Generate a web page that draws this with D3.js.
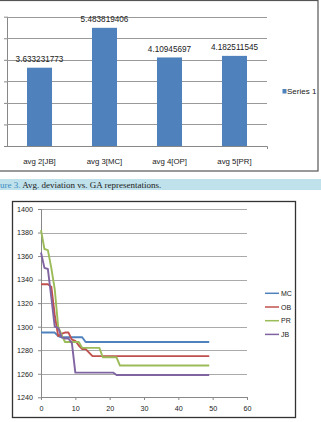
<!DOCTYPE html>
<html><head><meta charset="utf-8">
<script src="https://cdn.jsdelivr.net/npm/d3@7"></script>
<style>body{margin:0;background:#fff;} svg{display:block;}</style>
</head><body><svg id="c" width="321" height="422"></svg>
<script>
// ---- Top chart data ----
const barCategories = ["avg 2[JB]", "avg 3[MC]", "avg 4[OP]", "avg 5[PR]"];
const barValues = [3.633231773, 5.483819406, 4.10945697, 4.182511545];
const barLabels = ["3.633231773", "5.483819406", "4.10945697", "4.182511545"];
const barYTicks = [0, 1, 2, 3, 4, 5, 6];
const barSeriesName = "Series 1";

// ---- Caption ----
const captionLead = "ure 3. ";
const captionText = "Avg. deviation vs. GA representations.";

// ---- Bottom chart data (generation 0..49) ----
const seriesMC = [
  1295,1295,1295,1295,1295,1292,1291,1291,1291,1291,
  1291,1291,1291,1287,1287,1287,1287,1287,1287,1287,
  1287,1287,1287,1287,1287,1287,1287,1287,1287,1287,
  1287,1287,1287,1287,1287,1287,1287,1287,1287,1287,
  1287,1287,1287,1287,1287,1287,1287,1287,1287,1287];
const seriesOB = [
  1336,1336,1336,1334,1310,1292,1294,1295,1295,1289,
  1288,1284,1281,1281,1278,1275,1275,1275,1275,1275,
  1275,1275,1275,1275,1275,1275,1275,1275,1275,1275,
  1275,1275,1275,1275,1275,1275,1275,1275,1275,1275,
  1275,1275,1275,1275,1275,1275,1275,1275,1275,1275];
const seriesPR = [
  1382,1366,1365,1350,1332,1300,1293,1287,1287,1287,
  1287,1287,1282,1282,1282,1282,1282,1282,1274,1274,
  1274,1274,1274,1267,1267,1267,1267,1267,1267,1267,
  1267,1267,1267,1267,1267,1267,1267,1267,1267,1267,
  1267,1267,1267,1267,1267,1267,1267,1267,1267,1267];
const seriesJB = [
  1363,1350,1349,1325,1300,1299,1291,1290,1290,1286,
  1261,1261,1261,1261,1261,1261,1261,1261,1261,1261,
  1261,1261,1259,1259,1259,1259,1259,1259,1259,1259,
  1259,1259,1259,1259,1259,1259,1259,1259,1259,1259,
  1259,1259,1259,1259,1259,1259,1259,1259,1259,1259];
const lineSeriesNames = ["MC", "OB", "PR", "JB"];
const lineYTicks = [1240, 1260, 1280, 1300, 1320, 1340, 1360, 1380, 1400];
const lineXTicks = [0, 10, 20, 30, 40, 50, 60];

const lineSeries = [seriesMC, seriesOB, seriesPR, seriesJB];
const lineColors = ["#4F81BD", "#C0504D", "#9BBB59", "#8064A2"];

const sans = "'Liberation Sans', Arial, sans-serif";
const serif = "'Liberation Serif', 'Times New Roman', serif";
const svg = d3.select("#c");

// ================= TOP BAR CHART =================
svg.append("rect").attr("x", -1).attr("y", 0.5).attr("width", 319).attr("height", 170.5)
  .attr("fill", "#fff").attr("stroke", "#555").attr("stroke-width", 1.2);

const bx = d3.scaleBand().domain(barCategories).range([7, 267])
  .paddingInner(0.615).paddingOuter(0.3077);
const by = d3.scaleLinear().domain([0, 6]).range([146, 16.7]);

const gy = svg.append("g").attr("transform", "translate(7,0)")
  .call(d3.axisLeft(by).tickValues(barYTicks).tickSize(3).tickFormat(""));
gy.select(".domain").attr("stroke", "#888").attr("d", "M0.5," + by(6) + "V" + by(0));
gy.selectAll(".tick line").attr("stroke", "#888");

svg.append("g").selectAll("line").data(barYTicks.filter(d => d > 0)).join("line")
  .attr("x1", 7).attr("x2", 267)
  .attr("y1", d => Math.round(by(d)) + 0.5).attr("y2", d => Math.round(by(d)) + 0.5)
  .attr("stroke", "#999").attr("stroke-width", 1);

const gx = svg.append("g").attr("transform", "translate(0," + by(0) + ")")
  .call(d3.axisBottom(bx).tickSize(0).tickPadding(12));
gx.select(".domain").attr("stroke", "#888").attr("d", "M7,0.5H267.5V3");
gx.selectAll(".tick text").attr("font-family", sans).attr("font-size", "7.8px").attr("fill", "#222");

svg.append("g").selectAll("rect").data(barValues).join("rect")
  .attr("x", (d, i) => bx(barCategories[i]))
  .attr("width", bx.bandwidth())
  .attr("y", d => by(d))
  .attr("height", d => by(0) - by(d))
  .attr("fill", "#4F81BD");

svg.append("g").selectAll("text").data(barValues).join("text")
  .attr("x", (d, i) => bx(barCategories[i]) + bx.bandwidth() / 2)
  .attr("y", d => by(d) - 5.7)
  .attr("text-anchor", "middle")
  .attr("font-family", sans).attr("font-size", "8.2px").attr("fill", "#222")
  .text((d, i) => barLabels[i]);

svg.append("rect").attr("x", 282.5).attr("y", 89).attr("width", 4).attr("height", 4.5).attr("fill", "#4F81BD");
svg.append("text").attr("x", 287).attr("y", 94.3)
  .attr("font-family", sans).attr("font-size", "8px").attr("fill", "#222").text(barSeriesName);

// ================= CAPTION =================
svg.append("rect").attr("x", 0).attr("y", 179).attr("width", 321).attr("height", 11).attr("fill", "#bfe1eb");
const cap = svg.append("text").attr("x", 0).attr("y", 187.6)
  .attr("font-family", serif).attr("font-size", "9px").attr("font-weight", "normal");
cap.append("tspan").attr("fill", "#3b8cc2").text(captionLead);
cap.append("tspan").attr("fill", "#222").text(captionText);

// ================= BOTTOM LINE CHART =================
svg.append("rect").attr("x", 12.5).attr("y", 201.5).attr("width", 283).attr("height", 216)
  .attr("fill", "#fff").attr("stroke", "#333").attr("stroke-width", 1.3);

const lx = d3.scaleLinear().domain([0, 60]).range([41, 247]);
const ly = d3.scaleLinear().domain([1240, 1400]).range([397.3, 209]);

svg.append("g").selectAll("line").data(lineYTicks.filter(d => d > 1240)).join("line")
  .attr("x1", 41).attr("x2", 247)
  .attr("y1", d => Math.round(ly(d)) + 0.5).attr("y2", d => Math.round(ly(d)) + 0.5)
  .attr("stroke", "#aaa").attr("stroke-width", 1);

const ay = svg.append("g").attr("transform", "translate(41,0)")
  .call(d3.axisLeft(ly).tickValues(lineYTicks).tickSize(3).tickPadding(5).tickFormat(d3.format("d")));
ay.select(".domain").attr("stroke", "#888").attr("d", "M0.5," + ly(1400) + "V" + ly(1240));
ay.selectAll(".tick line").attr("stroke", "#888");
ay.selectAll(".tick text").attr("font-family", sans).attr("font-size", "7.2px").attr("fill", "#222");

const ax = svg.append("g").attr("transform", "translate(0," + Math.round(ly(1240)) + ")")
  .call(d3.axisBottom(lx).tickValues(lineXTicks).tickSize(3).tickPadding(6).tickFormat(d3.format("d")));
ax.select(".domain").attr("stroke", "#888").attr("d", "M41,0.5H247");
ax.selectAll(".tick line").attr("stroke", "#888");
ax.selectAll(".tick text").attr("font-family", sans).attr("font-size", "7.2px").attr("fill", "#222");

const lineGen = d3.line().x((d, i) => lx(i)).y(d => ly(d));
svg.append("g").selectAll("path").data(lineSeries).join("path")
  .attr("d", d => lineGen(d))
  .attr("fill", "none")
  .attr("stroke", (d, i) => lineColors[i])
  .attr("stroke-width", 1.9)
  .attr("stroke-linejoin", "round");

const leg = svg.append("g").selectAll("g").data(lineSeriesNames).join("g")
  .attr("transform", (d, i) => "translate(265," + (293.3 + i * 13.7) + ")");
leg.append("line").attr("x1", 0).attr("x2", 14).attr("y1", 0).attr("y2", 0)
  .attr("stroke", (d, i) => lineColors[i]).attr("stroke-width", 1.5);
leg.append("text").attr("x", 16).attr("y", 2.6)
  .attr("font-family", sans).attr("font-size", "7px").attr("fill", "#222").text(d => d);
</script>
</body></html>
